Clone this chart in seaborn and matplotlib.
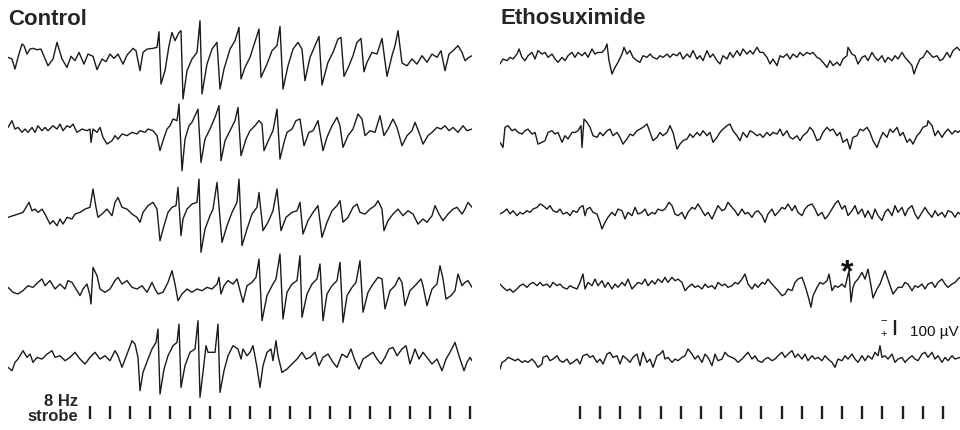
import numpy as np
import pandas as pd
import matplotlib
matplotlib.use("Agg")
import matplotlib.pyplot as plt
import seaborn as sns

# ---------------------------------------------------------------------------
# EEG traces, 5 sweeps per condition.  Each sweep is a vertex list:
# sample index (FS = 160 Hz) and amplitude in microvolts, negative up.
# ---------------------------------------------------------------------------
FS = 160.0

ctrl1_s = [0,4,7,10,14,16,19,22,25,29,33,36,40,45,49,54,59,63,67,71,76,80,85,89,94,98,102,106,110,115,119,125,128,132,135,139,145,149,151,153,157,161,164,167,171,173,175,179,184,189,192,194,199,204,209,212,216,222,227,231,233,237,242,247,251,253,259,264,269,272,275,280,285,290,294,297,302,307,311,314,320,325,330,333,336,341,345,349,353,356,359,364,369,374,379,384,387,390,394,399,404,409,414,419,424,429,433,437,441,445,450,454,457,461,464]
ctrl1_uv = [11,22,89,11,-78,-67,-11,-44,-49,-40,-44,4,67,22,-89,22,78,4,33,-22,56,-11,4,93,22,40,-11,18,-11,56,-4,-49,-33,100,-22,-44,-49,-56,-160,189,100,-67,-155,-100,-155,-167,289,100,22,-22,-233,255,56,-44,-89,222,89,-44,-100,-189,155,78,11,-93,-178,144,56,-33,-67,-195,222,67,-44,-89,-44,167,11,-67,-129,195,44,-22,-111,-122,138,67,0,-89,-115,107,44,-22,-11,-115,138,0,-67,-167,49,67,22,56,0,44,-11,11,-33,100,-11,-33,-67,-22,33,11,0]

ctrl2_s = [0,4,7,10,14,17,20,24,27,30,34,37,40,45,49,52,55,59,62,65,69,74,79,82,83,85,89,92,95,99,104,107,110,114,119,124,129,132,137,140,145,149,152,155,159,162,165,169,171,174,177,181,184,187,190,193,197,202,207,211,213,217,222,227,230,233,238,242,247,251,254,256,261,265,269,272,276,279,284,288,292,296,301,305,310,315,319,324,329,332,335,340,345,350,354,357,362,367,372,376,380,385,389,394,399,404,407,411,415,420,424,429,433,437,441,445,450,455,459,464]
ctrl2_uv = [-22,-67,-11,-22,11,-11,11,-22,11,-33,0,-22,0,-33,-11,-44,0,-33,-22,-44,11,-11,0,-11,78,-11,11,-22,44,89,67,33,56,22,33,11,22,0,11,-11,0,33,133,67,-11,-33,-78,-67,-178,267,56,-33,-56,-100,-144,211,56,-11,-89,-167,200,67,0,-67,-155,167,56,0,-33,-67,-44,133,56,0,-144,189,78,11,-11,-67,-78,100,11,0,-67,133,44,-33,-89,-33,111,33,-11,-111,-78,33,0,11,-100,33,-11,-78,-22,100,33,0,-56,11,89,33,11,-22,-11,-33,0,-22,11,-33,0,-11]

ctrl3_s = [0,5,10,15,21,24,27,30,34,37,42,45,49,52,55,59,64,67,72,77,82,85,88,90,94,99,104,107,110,114,119,124,129,132,135,140,145,149,152,156,160,164,168,170,173,175,179,184,189,191,193,197,202,205,209,214,219,224,229,231,234,239,244,249,251,255,260,265,269,273,278,284,289,292,295,300,305,310,314,319,324,329,332,335,340,345,349,352,357,362,367,370,374,376,380,385,390,395,400,405,410,415,419,424,427,431,435,440,445,449,454,457,460,464]
ctrl3_uv = [11,0,-11,-22,-89,-33,-44,-22,-44,-11,56,33,67,22,56,11,22,-11,-22,-44,-56,-178,-56,11,-11,-44,0,-89,-122,-56,-44,-11,11,44,-22,-67,-89,-44,167,67,-22,-56,-67,-189,133,22,-44,-78,-89,-244,244,89,0,-44,-222,178,67,-22,-89,-244,200,89,-11,-56,-155,100,44,-33,-178,100,11,-22,-33,-89,122,33,-22,-67,144,44,-33,-67,-100,44,11,-56,-78,-22,-11,-44,-67,-100,-44,100,33,-11,-44,0,-33,-11,56,22,44,0,-67,-11,33,-11,-44,-56,-11,-44,-89,-56]

ctrl4_s = [0,5,10,15,20,25,30,34,37,42,47,52,57,60,64,68,72,75,79,82,83,85,89,92,97,102,107,110,114,119,124,129,134,139,144,147,150,155,160,164,167,170,174,179,184,189,194,199,204,209,211,213,216,220,225,229,232,235,239,244,248,251,254,259,264,268,272,275,279,284,289,292,294,299,304,309,312,315,319,324,329,332,335,339,344,348,352,355,360,365,370,374,377,382,387,391,394,397,402,407,413,415,419,424,429,432,435,438,443,447,450,454,457,460,464]
ctrl4_uv = [-11,22,33,11,-22,-11,-44,-67,-22,-56,0,-33,0,-56,-44,0,44,0,-33,44,100,-144,-89,0,22,0,-56,-78,-33,-56,-11,0,-22,22,-44,0,33,22,-44,-122,-33,78,33,0,22,0,11,-11,0,-33,-78,33,-22,-56,-33,-67,11,89,-22,-44,-78,-200,211,44,-22,-67,-233,200,22,-33,-56,-222,189,33,-33,-67,-167,211,33,-22,-56,-178,222,44,-11,-44,-189,155,22,-33,-78,-67,133,11,-22,-78,-44,111,11,-22,-67,-22,111,0,-33,-155,-67,67,44,11,-100,-22,-44,-56,-11]

ctrl5_s = [0,4,7,10,15,19,22,25,29,34,39,44,47,52,57,62,67,72,77,82,87,92,97,102,107,110,114,119,124,127,130,132,135,140,144,148,150,152,156,160,165,169,171,173,177,182,187,190,192,195,198,200,207,210,212,216,220,225,230,233,235,239,242,245,249,252,255,259,263,265,268,270,274,279,284,289,294,298,302,307,311,315,320,325,329,334,339,343,347,351,355,360,365,369,373,377,381,385,389,394,398,402,407,411,415,419,424,429,434,438,442,447,451,456,459,462,464]
ctrl5_uv = [44,67,11,-11,-67,-22,-44,11,-22,-11,-44,-67,-22,-33,0,-22,-56,-11,22,-22,-56,-11,-33,0,-67,-33,44,-44,-133,-111,-22,200,78,-11,-78,-122,-211,222,56,-33,-100,-122,-244,178,33,-56,-78,-267,244,78,-100,-56,-56,-244,211,67,-33,-100,-78,-11,-78,-33,-56,-100,44,178,33,-56,-78,0,-133,-33,78,56,22,-11,-56,-11,-22,-56,33,-22,-44,11,44,-44,-22,-78,0,56,-11,-33,-56,-11,22,-22,-78,-89,-33,-78,-100,22,-78,-11,-56,-22,22,-11,67,-11,-56,-122,-33,67,11,-22,0]

etho1_s = [0,3,7,10,13,17,19,22,25,28,32,35,38,42,45,48,52,55,58,62,65,68,72,75,78,82,85,88,92,95,98,102,105,107,109,112,115,118,122,124,127,130,133,137,140,143,147,150,153,157,160,163,167,170,173,177,180,183,187,190,193,197,200,203,207,210,213,217,220,223,227,230,233,237,240,243,247,250,253,257,260,263,267,270,273,277,280,283,287,290,293,297,300,303,307,310,313,317,320,323,327,330,333,337,340,343,347,348,352,355,358,362,365,368,372,375,378,382,385,388,392,395,398,402,405,408,412,414,417,420,423,427,430,433,437,440,443,447,450,453,457,460]
etho1_uv = [33,0,11,-11,0,-33,-67,-11,11,-22,-44,0,-56,-33,-44,-11,-33,0,22,-11,11,-22,-44,-11,-44,-22,-44,-11,-67,-33,-44,-44,-67,-100,11,100,56,22,-33,-78,-33,-56,-11,11,22,-22,-11,-33,-11,0,-22,-11,-33,-11,-33,-22,-44,0,-33,-11,-56,0,-22,11,-56,-11,-33,11,33,-22,0,-44,-11,-56,-22,-67,-33,-56,-33,-78,-44,-44,-11,33,0,44,-22,-11,-33,0,-33,-11,-44,-22,-44,-33,-44,-11,0,22,56,11,44,22,44,0,-22,-78,-33,-22,33,-11,-22,11,-44,-11,11,-22,22,-11,11,-22,0,-44,-11,11,44,100,44,0,-11,-56,-33,-11,-22,11,0,-44,-11,-56,-78,-56]

etho2_s = [0,3,5,8,12,15,18,22,25,28,32,35,38,42,45,48,52,55,58,62,65,68,72,75,78,81,82,84,87,90,93,97,100,103,107,110,113,117,120,123,127,130,133,137,140,143,147,150,153,157,160,163,167,170,173,177,180,183,187,190,193,197,200,203,207,210,213,217,220,223,227,230,233,237,240,243,247,250,253,257,260,263,267,270,273,277,280,283,287,290,293,297,300,303,307,310,313,317,320,323,327,330,333,337,340,343,347,350,353,357,360,363,367,370,373,377,380,383,387,390,393,397,400,403,407,410,413,417,420,423,427,428,432,435,438,442,445,448,452,455,458,460]
etho2_uv = [44,78,-56,-67,-33,-44,-22,-11,-33,-44,-11,-22,56,44,33,-22,-33,-11,-22,44,0,22,-22,-22,-33,-67,78,-111,-89,-56,0,11,-22,0,-33,-44,0,-22,11,56,22,-11,0,-33,-44,-56,-78,-22,33,11,-22,0,-22,-67,-22,89,56,33,22,-11,11,-22,0,-33,0,-22,44,11,-22,-44,-67,-78,-33,0,33,-22,11,-33,-22,0,-11,11,-22,0,-22,-11,-44,0,-33,11,22,0,33,0,-22,-56,-33,33,22,-22,-56,-33,-44,0,-22,44,22,89,11,0,-44,-33,-56,-22,33,78,22,-22,11,-44,-22,-56,0,-22,44,22,56,0,-22,-56,-67,-100,-67,0,-33,11,-22,-44,-11,-33,-22,-33]

etho3_s = [0,3,7,10,13,17,20,23,27,30,33,37,40,43,47,50,53,57,60,63,67,70,73,77,80,83,85,87,90,93,97,100,102,105,108,112,115,118,122,125,128,132,135,138,142,145,148,152,155,158,162,165,169,172,175,178,182,185,188,192,195,198,202,205,208,212,215,218,222,225,228,232,235,238,242,245,248,252,255,258,262,265,268,272,275,278,282,285,288,292,295,298,302,305,308,312,315,318,322,325,328,332,335,338,342,345,348,352,355,358,362,365,368,372,375,378,382,385,388,392,395,398,402,405,408,412,415,418,422,425,428,432,435,438,442,445,448,452,455,458,460]
etho3_uv = [0,-11,-33,0,-22,11,-11,0,-22,-11,-33,-44,-67,-56,-33,-56,-22,-11,-33,0,-11,11,-22,-11,-44,-56,11,-33,-44,-11,0,56,100,56,22,-11,11,-33,-22,33,-11,11,-44,0,-11,-33,11,-11,0,-33,-22,-33,-78,-56,0,11,-11,33,-11,-44,-33,-67,-22,11,-11,33,-11,-56,-22,-33,-78,-44,-22,11,-33,0,-11,22,-11,-22,11,56,0,-33,11,-11,-44,-33,-67,-22,-56,-11,11,-33,-56,-67,-33,11,-11,33,11,-33,-67,-89,-33,-56,11,-22,-56,0,-33,22,-22,33,-33,11,44,-11,-33,11,-56,-11,-44,11,-33,-56,0,33,-11,-44,-11,22,-22,11,-11,22,-22,-11,22,-11,0]

etho4_s = [0,3,7,10,13,17,20,23,27,30,33,37,40,43,47,50,53,57,60,63,67,70,73,77,80,83,85,88,92,95,98,102,105,108,112,115,118,122,125,128,132,135,138,142,145,148,152,155,158,162,165,168,172,175,178,182,185,188,192,195,198,202,205,208,212,215,218,222,225,228,232,235,238,242,245,248,252,255,258,262,265,268,272,275,278,282,285,288,292,295,298,302,305,308,311,313,317,320,323,327,329,332,335,338,342,345,349,351,353,355,358,362,365,368,371,373,377,380,385,389,393,398,402,405,408,412,415,418,422,425,428,432,435,438,442,445,448,452,455,458,460]
etho4_uv = [-11,11,33,22,44,22,0,-11,11,-11,-22,0,-22,0,-11,11,-22,0,-11,11,22,0,11,22,-22,-78,22,-22,0,-44,0,-33,11,-22,22,-11,11,-22,0,-44,22,0,-22,-11,-44,0,-33,-11,-44,-22,-56,-22,-56,-33,-44,-22,33,11,-11,11,0,22,-11,11,0,22,-22,0,-11,11,0,-22,-11,-44,-78,-11,22,-11,11,-22,-11,-44,-11,11,33,67,56,22,33,-22,-44,-56,0,67,144,67,11,-22,-11,-33,-78,33,0,11,-11,11,-100,109,11,-22,-44,-89,-44,-111,0,82,22,-11,-100,-22,56,11,11,-22,-11,33,0,11,-11,22,-11,-22,11,-22,-44,-11,11,-11,-22,-44,-56]

etho5_s = [0,2,5,8,12,15,18,22,25,28,32,35,38,42,43,47,50,53,57,60,63,67,70,73,77,80,83,87,90,93,97,100,103,107,110,113,117,120,123,127,130,133,137,140,143,147,150,153,157,160,163,165,168,172,175,178,182,185,188,192,195,198,202,205,208,212,215,218,222,225,228,232,235,238,242,245,248,252,255,258,262,265,268,272,275,278,282,285,288,292,295,298,302,305,308,312,315,318,322,325,328,332,335,338,342,345,348,352,355,358,362,365,368,372,375,378,380,382,385,388,392,395,398,402,405,408,412,415,418,422,425,428,432,435,438,442,445,448,452,455,460]
etho5_uv = [56,11,0,-22,-11,0,-11,11,0,11,-11,11,44,22,-22,-33,0,-11,-33,0,11,-11,22,11,-11,22,-33,-44,-22,-33,11,-11,22,-44,-56,-22,-33,22,-33,-11,11,-22,-44,33,-56,11,-11,44,-33,-44,-67,-11,-22,11,-11,0,-22,-33,-78,-44,-11,-33,11,-44,-22,33,-44,0,-11,-56,-33,-22,-11,11,-11,-33,-56,-11,-33,0,11,-11,-22,0,-11,-33,-56,-22,-44,-67,-22,-44,-11,-44,0,-33,-11,-22,0,-33,-11,11,44,-11,0,-33,-11,-44,-11,11,-33,0,-33,-11,-56,-33,-100,-22,-33,-11,-44,11,-11,-22,11,-11,-33,-11,0,-44,-56,-22,-56,-11,-33,11,-22,0,-33,-11,-22]

# 8 Hz photic stimulation: flash onsets (ms from sweep start)
ctrl_strobe_ms = [513,638,763,888,1013,1138,1263,1388,1513,1638,1763,1888,2013,2138,2263,2388,2513,2638,2763,2888]
etho_strobe_ms = [500,626,752,878,1004,1130,1256,1382,1508,1634,1760,1886,2012,2138,2264,2390,2516,2642,2768]

SCALE_UV = 100  # calibration bar

# ---------------------------------------------------------------------------
# Layout (figure pixels) and display gain
# ---------------------------------------------------------------------------
W, H = 960, 431
UV_PER_PX = 100 / 15.0
CTRL_ROW_Y = [56.7, 131.7, 216.7, 290.0, 361.7]
ETHO_ROW_Y = [60.0, 136.7, 215.0, 286.7, 361.7]
STROBE_Y = (407, 420)

sns.set_style("white")
plt.rcParams["font.family"] = ["Liberation Sans", "DejaVu Sans"]

fig = plt.figure(figsize=(W / 100, H / 100), dpi=100)


def make_panel(left_px, width_px):
    ax = fig.add_axes([left_px / W, 0, width_px / W, 1])
    ax.set_xlim(0, width_px / FS)
    ax.set_ylim(H * UV_PER_PX, 0)   # negative up
    ax.axis("off")
    return ax


def sweeps_frame(sweeps, row_y):
    parts = []
    for i, ((s, uv), y0) in enumerate(zip(sweeps, row_y)):
        s = np.asarray(s, dtype=float)
        uv = np.asarray(uv, dtype=float)
        parts.append(pd.DataFrame({"t": s / FS, "v": y0 * UV_PER_PX + uv, "sweep": i}))
    return pd.concat(parts, ignore_index=True)


ctrl = sweeps_frame([(ctrl1_s, ctrl1_uv), (ctrl2_s, ctrl2_uv), (ctrl3_s, ctrl3_uv),
                     (ctrl4_s, ctrl4_uv), (ctrl5_s, ctrl5_uv)], CTRL_ROW_Y)
etho = sweeps_frame([(etho1_s, etho1_uv), (etho2_s, etho2_uv), (etho3_s, etho3_uv),
                     (etho4_s, etho4_uv), (etho5_s, etho5_uv)], ETHO_ROW_Y)

ax_c = make_panel(8, 464)
ax_e = make_panel(500, 460)

line_kw = dict(x="t", y="v", units="sweep", estimator=None, sort=False,
               color="#1a1a1a", linewidth=1.0, legend=False)
sns.lineplot(data=ctrl, ax=ax_c, **line_kw)
sns.lineplot(data=etho, ax=ax_e, **line_kw)
for ax in (ax_c, ax_e):
    ax.axis("off")

# strobe markers
tick_kw = dict(color="#202020", linewidth=1.7)
ax_c.vlines(np.array(ctrl_strobe_ms) / 1000.0, STROBE_Y[0] * UV_PER_PX, STROBE_Y[1] * UV_PER_PX, **tick_kw)
ax_e.vlines(np.array(etho_strobe_ms) / 1000.0, STROBE_Y[0] * UV_PER_PX, STROBE_Y[1] * UV_PER_PX, **tick_kw)

# calibration bar (negative up)
bar_t = (895 - 500) / FS
bar_top = 321 * UV_PER_PX
ax_e.vlines(bar_t, bar_top, bar_top + SCALE_UV, color="#202020", linewidth=1.7)
ax_e.text(bar_t + 15 / FS, bar_top + SCALE_UV, f"{SCALE_UV} µV", fontsize=11,
          ha="left", va="baseline", color="#111111")
ax_e.text(bar_t - 11 / FS, 320 * UV_PER_PX, "−", fontsize=8, ha="center", va="center", color="#111111")
ax_e.text(bar_t - 11 / FS, 334 * UV_PER_PX, "+", fontsize=8, ha="center", va="center", color="#111111")

# marker over the isolated spike
ax_e.text((847 - 500) / FS, 281 * UV_PER_PX, "*", fontsize=23, fontweight="bold",
          ha="center", va="baseline", color="#111111")

# titles and strobe label
fig.text(8 / W, 1 - 25 / H, "Control", fontsize=16, fontweight="bold", ha="left", va="baseline")
fig.text(500 / W, 1 - 23.5 / H, "Ethosuximide", fontsize=16, fontweight="bold", ha="left", va="baseline")
fig.text(78 / W, 1 - 405.7 / H, "8 Hz", fontsize=12, fontweight="bold", ha="right", va="baseline")
fig.text(78 / W, 1 - 420.7 / H, "strobe", fontsize=12, fontweight="bold", ha="right", va="baseline")

fig.savefig("out.png", dpi=100)
